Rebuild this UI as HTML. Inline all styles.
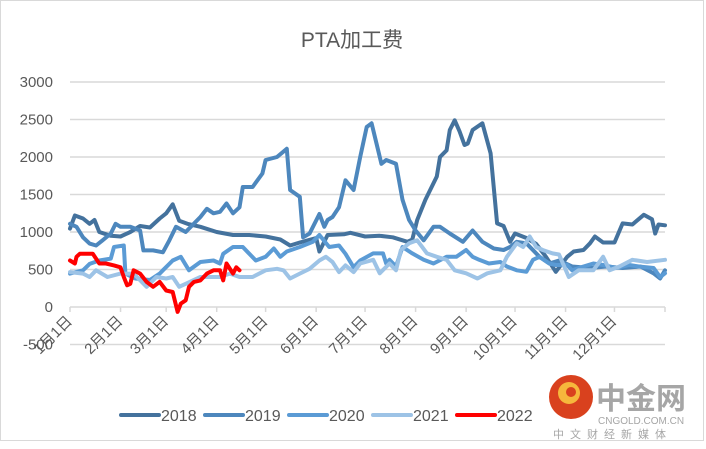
<!DOCTYPE html>
<html><head><meta charset="utf-8"><style>
html,body{margin:0;padding:0;background:#fff;}
body{width:706px;height:444px;overflow:hidden;font-family:"Liberation Sans","Noto Sans CJK SC",sans-serif;}
</style></head><body>
<svg id="chart" width="706" height="444" xmlns="http://www.w3.org/2000/svg" font-family="Liberation Sans, Noto Sans CJK SC, sans-serif">
<rect x="0.5" y="0.5" width="703" height="440" fill="#fff" stroke="#d9d9d9"/>
<text x="352" y="47" text-anchor="middle" font-size="21" fill="#595959">PTA加工费</text>
<g id="grid"></g><g id="ylab"></g><g id="xlab"></g><g id="series"></g>
<g id="legend"></g>
<g>
<circle cx="571" cy="397" r="22" fill="#d9411e"/>
<circle cx="569" cy="393" r="11" fill="#f6b73c"/>
<circle cx="571" cy="392" r="5" fill="#d9411e"/>
<text x="596" y="409" font-size="30" font-weight="bold" fill="#a6a6a6">中金网</text>
<text x="598" y="424" font-size="10" fill="#a6a6a6">CNGOLD.COM.CN</text>
<text x="553" y="438" font-size="11" fill="#a6a6a6" letter-spacing="6">中文财经新媒体</text>
</g>
</svg>
<script>
const yTicks=[3000,2500,2000,1500,1000,500,0,-500];
const monthLabels=["1月1日","2月1日","3月1日","4月1日","5月1日","6月1日","7月1日","8月1日","9月1日","10月1日","11月1日","12月1日"];
const monthDays=[0,31,59,90,120,151,181,212,243,273,304,334];
const seriesNames=["2018","2019","2020","2021","2022"];
const days2018=[0,3,8,12,15,18,25,31,37,43,49,55,59,63,67,72,80,90,100,110,120,129,135,141,151,153,158,168,172,181,190,198,207,210,213,218,225,227,231,233,236,239,242,244,247,253,258,262,266,270,273,280,286,292,298,305,309,315,319,322,327,334,339,345,352,357,359,361,365];
const vals2018=[1045,1220,1180,1110,1160,1000,950,940,1000,1080,1060,1180,1250,1370,1150,1110,1070,1000,960,960,940,900,820,860,920,740,960,970,990,940,950,930,870,900,1160,1430,1740,2000,2090,2360,2490,2340,2160,2180,2360,2450,2050,1115,1080,870,980,920,840,670,470,670,740,760,850,940,860,860,1115,1100,1230,1170,980,1100,1090];
const days2019=[0,4,8,12,16,20,25,28,31,37,43,45,51,57,61,65,71,80,84,88,92,96,100,104,106,112,118,120,127,133,135,141,143,147,153,156,158,161,165,169,174,178,182,185,188,191,194,200,204,208,212,217,223,227,233,241,247,253,260,266,270,274,280,288,294,300,308,319,329,339,350,358,362,365];
const vals2019=[1110,1070,930,845,820,890,980,1110,1070,1070,1020,755,755,730,890,1070,1000,1200,1310,1250,1270,1380,1250,1330,1600,1600,1780,1960,2000,2110,1560,1470,930,980,1240,1070,1160,1200,1330,1690,1560,2000,2400,2450,2180,1910,1960,1910,1430,1160,1020,890,1070,1070,980,870,1020,870,780,760,800,870,850,670,580,620,540,520,540,520,540,450,380,490];
const days2020=[0,8,12,18,25,27,33,34,40,49,55,57,63,68,73,80,88,92,94,100,106,110,114,120,125,129,133,141,149,153,159,165,169,174,178,186,192,194,196,200,204,210,217,223,231,237,243,247,251,257,264,268,274,280,284,288,294,298,305,308,315,321,327,335,343,349,358,362,365];
const vals2020=[445,490,575,620,645,800,820,445,380,360,445,490,620,670,490,600,620,580,710,800,800,710,620,670,780,670,740,800,870,960,800,820,710,530,620,715,715,580,630,540,800,715,630,580,670,670,760,670,630,580,600,540,490,470,630,670,580,560,560,490,540,580,560,520,560,540,520,400,450];
const days2021=[0,8,12,16,23,31,39,47,53,59,63,67,71,80,92,98,104,112,120,127,131,135,141,147,153,157,161,165,169,174,178,186,190,196,200,203,208,213,219,225,231,236,243,250,256,264,268,274,278,282,286,290,296,300,306,312,321,327,331,337,345,354,365];
const vals2021=[465,445,400,490,400,445,445,270,400,380,400,270,310,400,400,445,400,400,490,510,490,380,445,510,620,670,600,465,555,465,580,630,450,580,490,760,850,890,715,670,630,490,450,380,450,490,670,850,800,940,800,760,715,700,400,490,490,670,490,540,630,600,630];
const days2022=[0,3,4,6,10,14,18,22,27,31,33,35,37,39,43,47,51,55,59,63,66,68,71,73,76,80,84,88,92,94,96,100,102,104];
const vals2022=[620,580,670,710,710,710,580,580,555,530,400,290,310,490,445,335,270,335,220,200,-65,45,90,270,335,355,445,490,490,355,580,445,530,490];
const colors=["#44729d","#4d87bd","#5b9bd5","#9dc3e6","#ff0000"];
const NS="http://www.w3.org/2000/svg";
const X0=70,X1=665,Y0=307,PXU=0.075;
function xs(d){return X0+d*(X1-X0)/365;}
function ys(v){return Y0-v*PXU;}
function mk(tag,attrs,parent){const e=document.createElementNS(NS,tag);for(const k in attrs)e.setAttribute(k,attrs[k]);parent.appendChild(e);return e;}
const grid=document.getElementById('grid'),ylab=document.getElementById('ylab'),xlab=document.getElementById('xlab'),ser=document.getElementById('series'),leg=document.getElementById('legend');
yTicks.forEach(t=>{
  const l=mk('line',{x1:X0,x2:X1,y1:ys(t),y2:ys(t),stroke:'#d9d9d9','stroke-width':1.5},grid);
  
  
  const tx=mk('text',{x:53,y:ys(t)+5,'text-anchor':'end','font-size':15,fill:'#595959'},ylab);
  tx.textContent=t;
  
  
});
monthDays.concat([365]).forEach(d=>{
  const tk=mk('line',{x1:xs(d),x2:xs(d),y1:Y0,y2:Y0+5,stroke:'#d9d9d9','stroke-width':1.5},grid);
  
  
});
monthLabels.forEach((m,i)=>{
  const x=xs(monthDays[i])+3,y=Y0+15;
  const tx=mk('text',{x:x,y:y,'text-anchor':'end','font-size':15,fill:'#595959',transform:'rotate(-45 '+x+' '+y+')'},xlab);
  tx.textContent=m;
  
  
});
const allDays=[days2018,days2019,days2020,days2021,days2022];
const allVals=[vals2018,vals2019,vals2020,vals2021,vals2022];
allDays.forEach((ds,i)=>{
  const pts=ds.map((d,j)=>xs(d).toFixed(1)+','+ys(allVals[i][j]).toFixed(1)).join(' ');
  const p=mk('polyline',{points:pts,fill:'none',stroke:colors[i],'stroke-width':4,'stroke-linejoin':'round','stroke-linecap':'round'},ser);
  
  
  const lx=121+i*84;
  const ll=mk('line',{x1:lx,x2:lx+38,y1:415,y2:415,stroke:colors[i],'stroke-width':4,'stroke-linecap':'round'},leg);
  
  
  const lt=mk('text',{x:lx+40,y:421,'font-size':16,fill:'#595959'},leg);
  lt.textContent=seriesNames[i];
  
  
});
</script>
</body></html>
